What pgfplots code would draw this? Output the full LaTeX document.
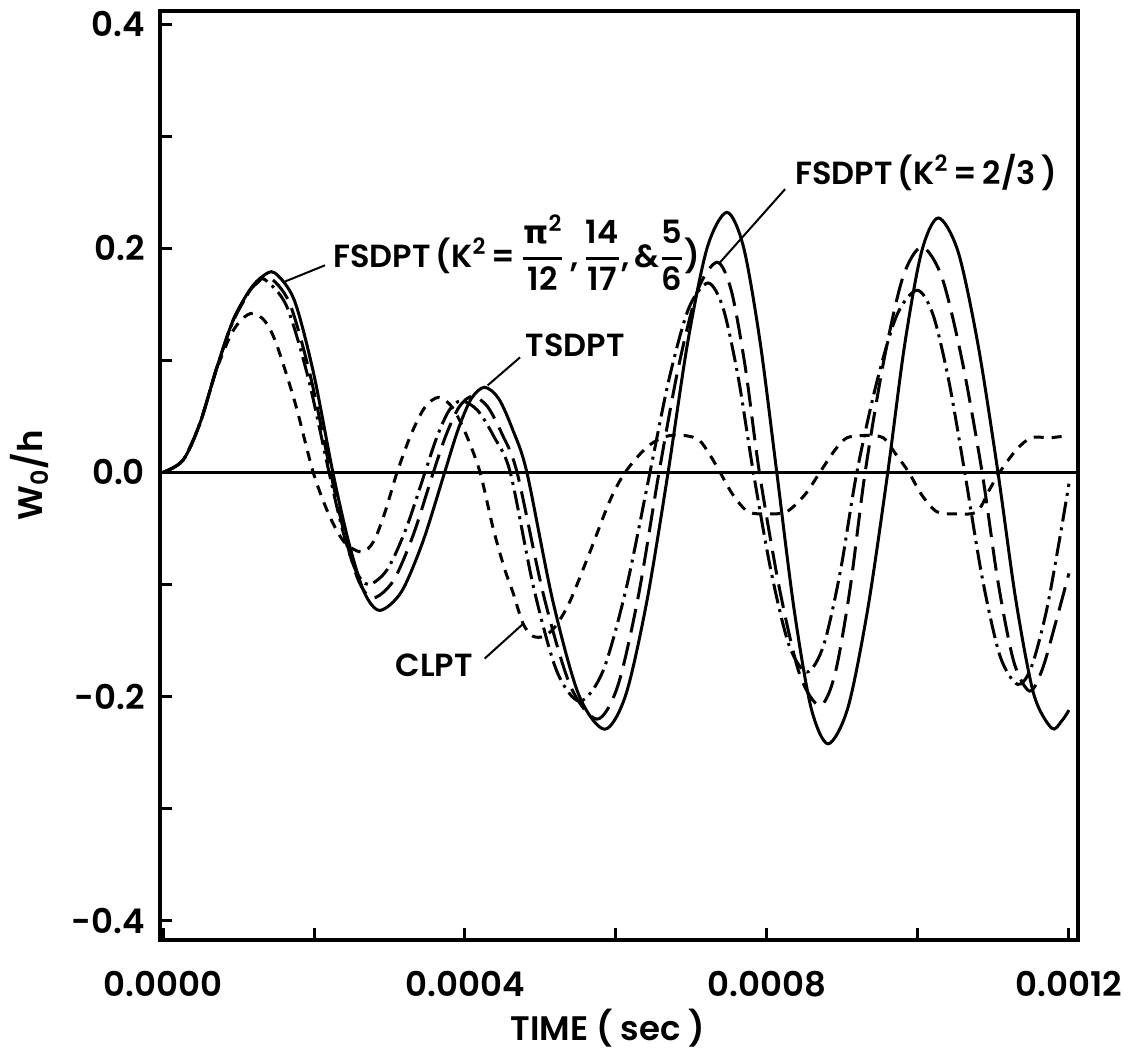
\documentclass[border=0pt]{standalone}
\usepackage{fontspec}
\setmainfont{Poppins}[BoldFont={Poppins SemiBold}]
\newfontfamily\dejavu{DejaVu Sans}
\usepackage{amsmath}
\usepackage{pgfplots}
\pgfplotsset{compat=1.18}
\newcommand{\fr}[2]{$\genfrac{}{}{1.1pt}{0}{\text{#1}}{\text{#2}}$}
\begin{document}
\begin{tikzpicture}
\path[use as bounding box] (-80pt,-57.5pt) rectangle (484.5pt,470pt);
\begin{axis}[
 at={(0,0)}, anchor=south west,
 scale only axis, width=459pt, height=464.5pt,
 xmin=-0.000004, xmax=0.001212, ymin=-0.417, ymax=0.4116,
 scaled x ticks=false, scaled y ticks=false,
 axis line style={line width=2pt},
 xtick={0,0.0002,0.0004,0.0006,0.0008,0.001,0.0012},
 xticklabels={0.0000,,0.0004,,0.0008,,0.0012},
 ytick={-0.4,-0.3,-0.2,-0.1,0,0.1,0.2,0.3,0.4},
 yticklabels={-0.4,,-0.2,,0.0,,0.2,,0.4},
 tick align=inside, xtick pos=bottom, ytick pos=left,
 major tick length=6pt, tick style={line width=1.5pt, black},
 /pgf/number format/assume math mode=true,
 ticklabel style={font=\fontsize{17}{20}\selectfont\bfseries},
 xticklabel style={yshift=-12pt},
 yticklabel style={xshift=-4pt},
 xlabel={TIME ( sec )},
 ylabel={W\textsubscript{0}/h},
 label style={font=\fontsize{17}{20}\selectfont\bfseries},
 x label style={at={(axis description cs:0.488,0)}, yshift=-44pt, anchor=center},
 y label style={at={(axis description cs:-0.142,0.5)}, anchor=center},
 clip=false,
]
\addplot[black, line width=1.4pt] coordinates {(-0.000004,0) (0.001212,0)};
% solid
\addplot[black, line width=1.5pt, smooth] coordinates {
(0,0) (0.0000265,0.011) (0.000049,0.044) (0.0000715,0.094) (0.000093,0.136) (0.000115,0.163) (0.000132,0.175) (0.000148,0.178) (0.0001737,0.154) (0.0001993,0.089) (0.000225,0) (0.0002457,-0.0615) (0.0002663,-0.1065) (0.000287,-0.123) (0.0003157,-0.1065) (0.0003443,-0.0615) (0.000373,0) (0.0003907,0.038) (0.0004083,0.0658) (0.000426,0.076) (0.0004447,0.0658) (0.0004633,0.038) (0.000482,0) (0.0005163,-0.1145) (0.0005507,-0.1983) (0.000585,-0.229) (0.000613,-0.1983) (0.000641,-0.1145) (0.000669,0) (0.000695,0.116) (0.000721,0.2009) (0.000747,0.232) (0.000769,0.2009) (0.000791,0.116) (0.000813,0) (0.0008357,-0.121) (0.0008583,-0.2096) (0.000881,-0.242) (0.0009073,-0.2096) (0.0009337,-0.121) (0.00096,0) (0.0009823,0.1135) (0.0010047,0.1966) (0.001027,0.227) (0.0010533,0.1966) (0.0010797,0.1135) (0.001106,0) (0.0011297,-0.114) (0.0011533,-0.1975) (0.001177,-0.228) (0.00119,-0.222) (0.0012,-0.212)};
% long dash
\addplot[black, line width=1.5pt, smooth, dash pattern=on 12pt off 5pt] coordinates {
(0,0) (0.0000265,0.011) (0.000049,0.044) (0.0000715,0.094) (0.000093,0.136) (0.000115,0.162) (0.000128,0.172) (0.00014,0.175) (0.0001673,0.1516) (0.0001947,0.0875) (0.000222,0) (0.0002407,-0.056) (0.0002593,-0.097) (0.000278,-0.112) (0.0003047,-0.097) (0.0003313,-0.056) (0.000358,0) (0.0003753,0.034) (0.0003927,0.0589) (0.00041,0.068) (0.0004297,0.0589) (0.0004493,0.034) (0.000469,0) (0.0005043,-0.11) (0.0005397,-0.1905) (0.000575,-0.22) (0.0006023,-0.1905) (0.0006297,-0.11) (0.000657,0) (0.0006827,0.0938) (0.0007083,0.1624) (0.000734,0.1875) (0.0007527,0.1624) (0.0007713,0.0938) (0.00079,0) (0.0008167,-0.104) (0.0008433,-0.1801) (0.00087,-0.208) (0.00089,-0.1801) (0.00091,-0.104) (0.00093,0) (0.000955,0.1005) (0.00098,0.1741) (0.001005,0.201) (0.0010317,0.1741) (0.0010583,0.1005) (0.001085,0) (0.001106,-0.0975) (0.001127,-0.1689) (0.001148,-0.195) (0.001165,-0.175) (0.001182,-0.135) (0.0012,-0.09)};
% dash dot
\addplot[black, line width=1.5pt, smooth, dash pattern=on 10pt off 3pt on 1.5pt off 3pt] coordinates {
(0,0) (0.0000265,0.011) (0.000049,0.044) (0.0000715,0.094) (0.000093,0.135) (0.000115,0.162) (0.000125,0.169) (0.000135,0.172) (0.0001633,0.149) (0.0001917,0.086) (0.00022,0) (0.0002373,-0.05) (0.0002547,-0.0866) (0.000272,-0.1) (0.000297,-0.0866) (0.000322,-0.05) (0.000347,0) (0.000363,0.032) (0.000379,0.0554) (0.000395,0.064) (0.0004167,0.0554) (0.0004383,0.032) (0.00046,0) (0.0004907,-0.102) (0.0005213,-0.1767) (0.000552,-0.204) (0.000583,-0.1767) (0.000614,-0.102) (0.000645,0) (0.0006707,0.0845) (0.0006963,0.1464) (0.000722,0.169) (0.000742,0.1464) (0.000762,0.0845) (0.000782,0) (0.0008057,-0.089) (0.0008293,-0.1542) (0.000853,-0.178) (0.000875,-0.1542) (0.000897,-0.089) (0.000919,0) (0.0009457,0.0813) (0.0009723,0.1407) (0.000999,0.1625) (0.00102,0.1407) (0.001041,0.0813) (0.001062,0) (0.0010853,-0.0945) (0.0011087,-0.1637) (0.001132,-0.189) (0.00115,-0.174) (0.00117,-0.124) (0.001188,-0.058) (0.0012,-0.01)};
% CLPT short dash
\addplot[black, line width=1.5pt, smooth, dash pattern=on 5pt off 4pt] coordinates {
(0,0) (0.0000265,0.011) (0.000049,0.044) (0.00007,0.09) (0.00009,0.123) (0.000105,0.137) (0.000119,0.142) (0.000135,0.135) (0.00015,0.115) (0.000175,0.062) (0.000199,0) (0.00022,-0.038) (0.00024,-0.062) (0.000263,-0.071) (0.000279,-0.0615) (0.000294,-0.0355) (0.00031,0) (0.0003283,0.0335) (0.0003467,0.058) (0.000365,0.067) (0.0003833,0.058) (0.0004017,0.0335) (0.00042,0) (0.000437,-0.049) (0.000452,-0.085) (0.000464,-0.108) (0.000477,-0.135) (0.00049,-0.146) (0.000505,-0.146) (0.00052,-0.137) (0.000539,-0.115) (0.000566,-0.07) (0.000592,-0.025) (0.000612,0) (0.00064,0.022) (0.000665,0.032) (0.00069,0.033) (0.00071,0.029) (0.000725,0.015) (0.000738,0) (0.000755,-0.02) (0.000775,-0.035) (0.0008,-0.037) (0.000826,-0.035) (0.00085,-0.02) (0.00087,0) (0.00089,0.02) (0.000906,0.031) (0.00093,0.033) (0.000954,0.031) (0.00097,0.017) (0.000988,0) (0.001005,-0.02) (0.001025,-0.035) (0.00105,-0.037) (0.001078,-0.035) (0.001095,-0.015) (0.001108,0) (0.00113,0.02) (0.00115,0.031) (0.001175,0.031) (0.0012,0.033)};
% leader lines
\draw[line width=1pt] (axis cs:0.0002146,0.1848) -- (axis cs:0.000159,0.1696);
\draw[line width=1pt] (axis cs:0.000824,0.2527) -- (axis cs:0.000738,0.1875);
\draw[line width=1pt] (axis cs:0.000473,0.1027) -- (axis cs:0.00043,0.0777);
\draw[line width=1pt] (axis cs:0.000426,-0.166) -- (axis cs:0.000477,-0.135);
% labels
\node[anchor=west, inner sep=0pt, font=\fontsize{16}{19}\selectfont\bfseries] at (axis cs:0.000225,0.196)
 {FSDPT\,(K\textsuperscript{2}\,=\,\fr{{\dejavu\bfseries π}\textsuperscript{2}}{12}\,,\,\fr{14}{17},\,\&\fr{5}{6})};
\node[anchor=west, inner sep=0pt, font=\fontsize{16}{19}\selectfont\bfseries] at (axis cs:0.000837,0.2679)
 {FSDPT\,(K\textsuperscript{2}\,=\,2/3\,)};
\node[inner sep=0pt, font=\fontsize{16}{19}\selectfont\bfseries] at (axis cs:0.000546,0.1134) {TSDPT};
\node[inner sep=0pt, font=\fontsize{16}{19}\selectfont\bfseries] at (axis cs:0.000359,-0.1723) {CLPT};
\end{axis}
\end{tikzpicture}
\end{document}
